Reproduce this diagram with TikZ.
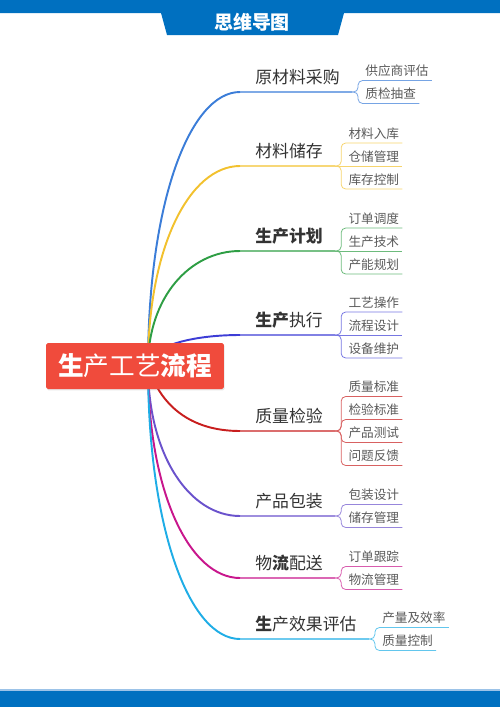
\documentclass[tikz,border=0pt]{standalone}
\usepackage{fontspec}
\setmainfont{Noto Sans CJK SC}
\usetikzlibrary{positioning, calc, shadows}
\usepackage{xcolor}

\definecolor{headblue}{HTML}{0070C0}
\definecolor{footline}{HTML}{9CC3E8}
\definecolor{rootred}{HTML}{F04B3C}
\definecolor{topictext}{HTML}{333333}
\definecolor{itemtext}{HTML}{5A5A5A}
\definecolor{cbuy}{HTML}{3B7DD8}
\definecolor{cstore}{HTML}{F2C12E}
\definecolor{cplan}{HTML}{2E9E44}
\definecolor{crun}{HTML}{3D3DD6}
\definecolor{ccheck}{HTML}{C81E1E}
\definecolor{cpack}{HTML}{6A52CC}
\definecolor{cship}{HTML}{C8168C}
\definecolor{ceval}{HTML}{1FADE6}

\begin{document}
\begin{tikzpicture}[x=0.02cm, y=-0.02cm,
    root/.style={fill=rootred, text=white, rounded corners=1pt, minimum width=3.56cm, minimum height=0.92cm, inner sep=0,
        font=\fontsize{14.6}{16}\selectfont, drop shadow={opacity=0.2, shadow xshift=0.4pt, shadow yshift=-0.8pt}},
    topic/.style={anchor=base west, inner sep=0, text=topictext, font=\fontsize{9.6}{11}\selectfont},
    item/.style={anchor=base west, inner sep=0, text=itemtext, font=\fontsize{7.2}{8}\selectfont},
    limb/.style={line width=1.1pt},
    stem/.style={line width=0.6pt},
    twig/.style={line width=0.45pt, rounded corners=2.6pt}]
    \useasboundingbox (0,0) rectangle (500,707);

    % header and footer bands
    \fill[headblue] (0,0) -- (500,0) -- (500,13) -- (344,13) -- (338,35) -- (167,35) -- (161,13) -- (0,13) -- cycle;
    \node[text=white, font=\fontsize{10.8}{12}\selectfont\bfseries] (title) at (252,22) {思维导图};
    \fill[headblue] (0,690) rectangle (500,707);
    \draw[footline, line width=0.6pt] (0,690) -- (500,690);

    \coordinate (o) at (148,366);

    % name / colour / line y / first control / topic / sub items
    \foreach \name/\clr/\ty/\cx/\cy/\topic/\items in {
        buy/cbuy/92/0/-164/{原材料采购}/{-11.5/供应商评估,11.5/质检抽查},
        store/cstore/166/0/-120/{材料储存}/{-23/材料入库,0/仓储管理,23/库存控制},
        plan/cplan/251/0/-69/{\textbf{生产计划}}/{-23/订单调度,0/生产技术,23/产能规划},
        run/crun/335/0/-19/{\textbf{生产}执行}/{-23/工艺操作,0/流程设计,23/设备维护},
        check/ccheck/431/12/39/{质量检验}/{-34.5/质量标准,-11.5/检验标准,11.5/产品测试,34.5/问题反馈},
        pack/cpack/516/0/90/{产品包装}/{-11.5/包装设计,11.5/储存管理},
        ship/cship/578/0/127/{物\textbf{流}配送}/{-11.5/订单跟踪,11.5/物流管理},
        eval/ceval/639/0/164/{\textbf{生}产效果评估}/{-11.5/产量及效率,11.5/质量控制}}
    {
        \node[topic] (\name) at (255,\ty-8.5) {\topic};
        \coordinate (\name-in) at (240,\ty);
        \coordinate (\name-out) at ($(\name.base east)+(12,8.5)$);
        \draw[limb, \clr] (o) .. controls +(\cx,\cy) and +(-50,0) .. (\name-in);
        \draw[stem, \clr] (\name-in) -- (\name-out);
        \foreach \dy/\txt [count=\i] in \items {
            \node[item] (\name-\i) at ($(\name-out)+(13,\dy-5)$) {\txt};
            \ifdim \dy pt=0pt
                \draw[twig, \clr!70] (\name-out) -- ($(\name-\i.base east)+(3,5)$);
            \else
                \draw[twig, \clr!70] (\name-out) -- ++(6,0) |- ($(\name-\i.base east)+(3,5)$);
            \fi
        }
    }

    \node[root] (root) at (135,366) {\textbf{生}产工艺\textbf{流程}};
\end{tikzpicture}
\end{document}
